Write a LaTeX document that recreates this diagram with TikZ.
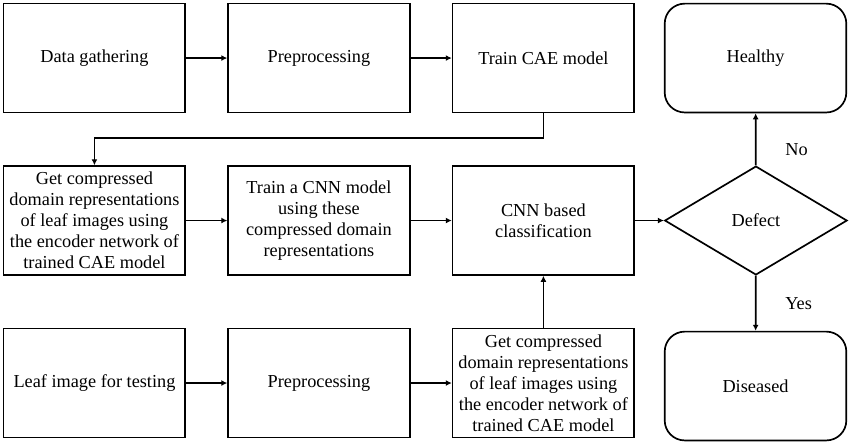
\documentclass[tikz,border=0pt]{standalone}
\usepackage{fontspec}
\setmainfont{Liberation Serif}
\usetikzlibrary{positioning}
\usetikzlibrary{arrows.meta}
\usetikzlibrary{shapes.geometric}

\begin{document}
\begin{tikzpicture}[
        node distance=1.3cm and 1.03cm,
        box/.style={draw, line width=1.2pt, minimum width=4.54cm,
                    minimum height=2.72cm, inner sep=1pt,
                    align=center, font=\fontsize{13}{15}\selectfont},
        result/.style={box, rounded corners=0.5cm},
        decision/.style={draw, diamond, line width=1.2pt, minimum width=4.56cm,
                    minimum height=2.72cm, inner sep=0pt,
                    font=\fontsize{13}{15}\selectfont},
        arrow/.style={-{Latex[length=1.5mm,width=1.5mm]}, line width=1.3pt}
    ]
        \useasboundingbox (0,0) rectangle (21.25,-11.075);
        \node[box, anchor=north west] (gather) at (0.07,-0.07) {Data gathering};
        \node[box, right=of gather] (prep) {Preprocessing};
        \node[box, right=of prep] (cae) {Train CAE model};
        \node[box, below=of gather] (encode) {Get compressed\\domain representations\\of leaf images using\\the encoder network of\\trained CAE model};
        \node[box, right=of encode] (cnn) {Train a CNN model\\using these\\compressed domain\\representations};
        \node[box, right=of cnn] (classify) {CNN based\\classification};
        \node[box, below=of encode] (test) {Leaf image for testing};
        \node[box, right=of test] (testprep) {Preprocessing};
        \node[box, right=of testprep] (testenc) {Get compressed\\domain representations\\of leaf images using\\the encoder network of\\trained CAE model};
        \node[result, right=0.72cm of cae] (healthy) {Healthy};
        \node[decision, right=0.72cm of classify] (defect) {Defect};
        \node[result, right=0.72cm of testenc, yshift=-0.075cm] (diseased) {Diseased};

        \draw[arrow] (gather) -- (prep);
        \draw[arrow] (prep) -- (cae);
        \draw[arrow] (cae.south) -- ++(0,-0.625) -| (encode.north);
        \draw[arrow] (encode) -- (cnn);
        \draw[arrow] (cnn) -- (classify);
        \draw[arrow] (classify) -- (defect);
        \draw[arrow] (test) -- (testprep);
        \draw[arrow] (testprep) -- (testenc);
        \draw[arrow] (testenc) -- (classify);
        \draw[arrow] (defect) -- node[pos=0.3, right=0.6cm, font=\fontsize{13}{15}\selectfont] {No} (healthy);
        \draw[arrow] (defect) -- node[pos=0.5, right=0.6cm, font=\fontsize{13}{15}\selectfont] {Yes} (diseased);
    \end{tikzpicture}
\end{document}
